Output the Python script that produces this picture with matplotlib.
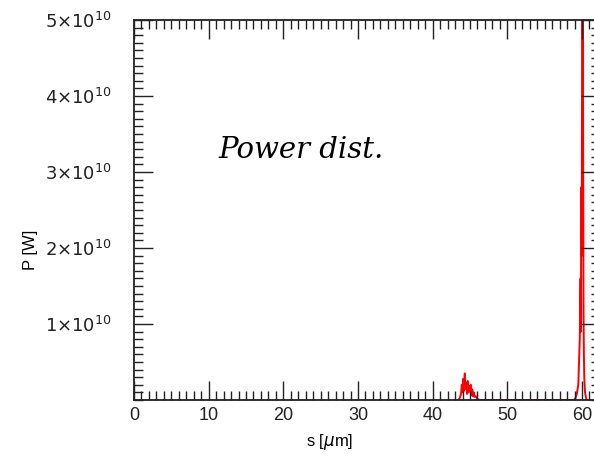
import numpy as np
import matplotlib
matplotlib.use("Agg")
import matplotlib.pyplot as plt
from matplotlib.ticker import MultipleLocator, FuncFormatter

# position along the undulator [um] and power [W]
s_um = [43.4, 43.6, 43.8, 43.9, 44.0, 44.1, 44.2, 44.3, 44.4, 44.5, 44.6, 44.7,
        44.8, 44.9, 45.0, 45.1, 45.2, 45.3, 45.4, 45.5, 45.6, 45.8, 46.0, 46.4,
        50.0, 55.0, 58.9, 59.1, 59.3, 59.5, 59.6, 59.7, 59.8, 59.85, 59.9, 59.95,
        60.0, 60.05, 60.1, 60.15, 60.2, 60.25, 60.3, 60.4, 60.6]
p_e10 = [0.0, 0.02, 0.08, 0.20, 0.10, 0.28, 0.12, 0.35, 0.15, 0.22, 0.08, 0.25,
         0.10, 0.18, 0.12, 0.20, 0.06, 0.14, 0.05, 0.10, 0.04, 0.05, 0.01, 0.0,
         0.0, 0.0, 0.0, 0.02, 0.08, 0.20, 0.50, 0.80, 1.60, 0.90, 2.80, 1.90,
         4.00, 6.00, 5.50, 3.30, 1.20, 0.60, 0.30, 0.10, 0.0]

x_ticks = [0, 10, 20, 30, 40, 50, 60]
y_ticks = [1e10, 2e10, 3e10, 4e10, 5e10]

plt.rcParams["font.family"] = ["Liberation Sans", "DejaVu Sans"]

fig = plt.figure(figsize=(5.94, 4.59), dpi=100, facecolor="white")
ax = fig.add_axes([0.2256, 0.1285, 0.7844, 0.828])

P = np.array(p_e10) * 1e10
ax.plot(s_um, P, color="#ff0000", linewidth=1.4, zorder=1)

ax.set_xlim(0, 62.4)
ax.set_ylim(0, 5e10)
ax.set_xticks(x_ticks)
ax.set_yticks(y_ticks)
ax.xaxis.set_minor_locator(MultipleLocator(1))
ax.yaxis.set_minor_locator(MultipleLocator(1e9))


def sci(v, pos):
    return r"$%d{\times}10^{10}$" % round(v / 1e10)


ax.yaxis.set_major_formatter(FuncFormatter(sci))
ax.tick_params(which="both", direction="in", top=True, right=True, colors="#222222")
ax.tick_params(which="major", length=14, width=1.0, labelsize=13)
ax.tick_params(axis="y", which="major", pad=16)
ax.tick_params(axis="x", which="major", pad=5)
ax.tick_params(which="minor", length=6.5, width=1.0)
for sp in ax.spines.values():
    sp.set_linewidth(1.3)
    sp.set_color("#222222")

ax.set_xlabel(r"s [$\mu$m]", fontsize=12, labelpad=2)
ax.xaxis.set_label_coords(0.42, -0.085)
ax.set_ylabel("P [W]", fontsize=12)
ax.yaxis.set_label_coords(-0.207, 0.395)

ax.text(0.358, 0.658, "Power dist.", transform=ax.transAxes, fontsize=21,
        style="italic", family="DejaVu Serif", ha="center", va="center")

fig.savefig("out.png", dpi=100, facecolor="white")
